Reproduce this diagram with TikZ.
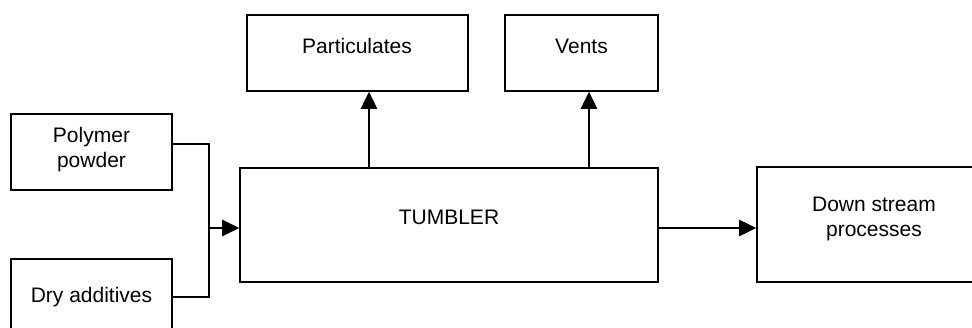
\documentclass[tikz,border=0pt]{standalone}
\usepackage{fontspec}
\setmainfont{Liberation Sans}
\usetikzlibrary{arrows.meta,calc}
\begin{document}
\begin{tikzpicture}[x=0.75pt,y=-0.75pt,
  box/.style={draw,line width=0.9pt,rectangle,inner sep=0pt},
  lbl/.style={font=\fontsize{15.75}{18.75}\selectfont,align=center,inner sep=0pt},
  flow/.style={line width=1pt},
  arr/.style={line width=2.2pt,-{Triangle[length=13pt,width=12pt]}}]
\clip (0,0) rectangle (972,328);
% boxes (sized in px: width x height)
\node[box,minimum width=161*0.75pt,minimum height=76*0.75pt] (poly) at (91.5,152) {};
\node[box,minimum width=161*0.75pt,minimum height=100*0.75pt] (dry) at (91.5,309) {};
\node[box,minimum width=221*0.75pt,minimum height=76*0.75pt] (part) at (357.5,53) {};
\node[box,minimum width=153*0.75pt,minimum height=76*0.75pt] (vents) at (581.5,53) {};
\node[box,minimum width=418*0.75pt,minimum height=114*0.75pt] (tum) at (449,225) {};
\node[box,minimum width=240*0.75pt,minimum height=115*0.75pt] (down) at (877,224.5) {};
% labels
\node[lbl] (tpoly) at (91.5,150) {Polymer\\powder};
\node[lbl] (tdry) at (91.5,297) {Dry additives};
\node[lbl] (tpart) at (357,46) {Particulates};
\node[lbl] (tvents) at (581.5,46) {Vents};
\node[lbl] (ttum) at (449,217) {TUMBLER};
\node[lbl] (tdown) at (874,219) {Down stream\\processes};
% connectors
\coordinate (j) at (209,228);
\draw[flow] (poly.east |- {(0,144)}) -| (j);
\draw[flow] (dry.east |- {(0,297)}) -| (j);
\draw[arr] (j) -- (tum.west |- j);
\draw[arr] (tum.north -| {(369,0)}) -- (part.south -| {(369,0)});
\draw[arr] (tum.north -| {(589,0)}) -- (vents.south -| {(589,0)});
\draw[arr] (tum.east |- {(0,228)}) -- (down.west |- {(0,228)});
\end{tikzpicture}
\end{document}
